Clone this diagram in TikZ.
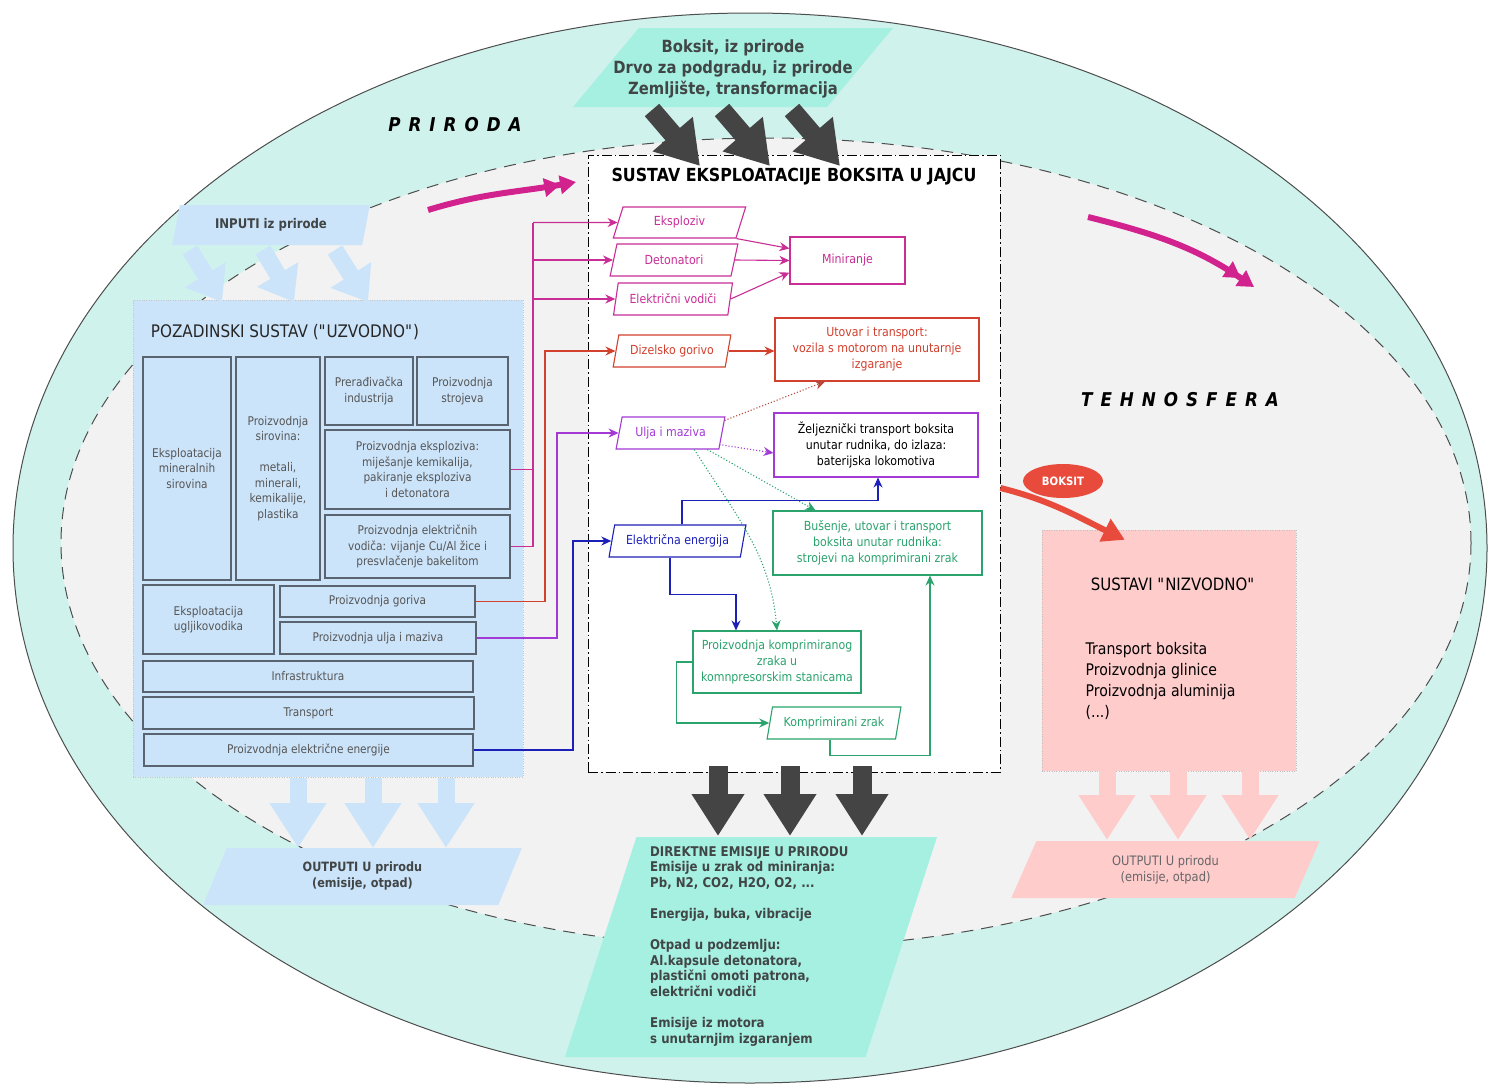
\documentclass[tikz,border=0pt]{standalone}
\usepackage{fontspec}
\setmainfont{DejaVu Sans}[FakeStretch=0.88]
\usetikzlibrary{shapes.geometric,arrows.meta,calc}
\definecolor{outline}{HTML}{4D4D4D}
\definecolor{teal1}{HTML}{CFF3EC}
\definecolor{innergray}{HTML}{F2F2F2}
\definecolor{aqua}{HTML}{A6F0E2}
\definecolor{lblue}{HTML}{CCE4FA}
\definecolor{lpink}{HTML}{FFCCCC}
\definecolor{magc}{HTML}{C92D96}
\definecolor{magarrow}{HTML}{D2228E}
\definecolor{redc}{HTML}{D2402E}
\definecolor{purp}{HTML}{A33AD6}
\definecolor{bluec}{HTML}{1C20B8}
\definecolor{greenc}{HTML}{2AA36D}
\definecolor{darkarrow}{HTML}{444444}
\definecolor{boxedge}{HTML}{5A6470}
\definecolor{boxtext}{HTML}{555555}
\definecolor{darktext}{HTML}{404545}
\definecolor{boksred}{HTML}{E84A3C}
\definecolor{dotred}{HTML}{B4483C}
\newcommand\spc{\hspace{8pt}}
\newcommand\qq{\textquotedbl}
\begin{document}
\begin{tikzpicture}[x=1pt,y=-1pt,
  lbox/.style={draw=boxedge,fill=lblue,line width=1.1pt,inner sep=1pt,align=center,text=boxtext,font=\fontsize{12}{15.5}\selectfont},
  para/.style={trapezium,trapezium left angle=70,trapezium right angle=110,trapezium stretches=true,inner sep=0pt,align=center},
  cpara/.style={para,draw=#1,text=#1,line width=1.1pt,fill=white,font=\fontsize{12.5}{16}\selectfont},
  crect/.style={draw=#1,line width=1.1pt,fill=white,align=center,inner sep=1pt,font=\fontsize{12.5}{16}\selectfont},
  conn/.style={line width=1.1pt,-{Stealth[length=10pt,width=9pt]}},
  dotconn/.style={line width=1.1pt,dotted,-{Stealth[length=10pt,width=9pt]}},
  dblk/.style={draw=darkarrow,line width=19pt,-{Triangle[length=42pt,width=50pt]}},
  bblk/.style={draw=lblue,line width=17pt,-{Triangle[length=45pt,width=54pt]}},
  iblk/.style={draw=lblue,line width=17pt,-{Triangle[length=32pt,width=46pt]}},
  pblk/.style={draw=lpink,line width=17pt,-{Triangle[length=45pt,width=54pt]}},
  magarr/.style={draw=magarrow,line width=6pt,-{Triangle[length=16pt,width=18pt]Triangle[length=16pt,width=18pt]}},
  bigtitle/.style={font=\fontsize{19}{22}\selectfont\bfseries\itshape,text=black}
]
\useasboundingbox (0,0) rectangle (1491,1084);
\fill[white] (0,0) rectangle (1491,1084);
% spheres
\draw[draw=outline,line width=1pt,fill=teal1] (750,548) ellipse [x radius=737pt,y radius=535pt];
\draw[draw=outline,line width=1pt,dash pattern=on 12pt off 8pt,fill=innergray] (766,543) ellipse [x radius=705pt,y radius=405pt];

\node[bigtitle] (priroda) at (455,125) {P\spc R\spc I\spc R\spc O\spc D\spc A};
\node[bigtitle] (tehno) at (1180,400) {T\spc E\spc H\spc N\spc O\spc S\spc F\spc E\spc R\spc A};

% nature inputs
\node[para,fill=aqua,minimum width=320pt,minimum height=79pt] (nat) at (733,67.5) {\phantom{M}};
\node[align=center,font=\fontsize{16.8}{21}\selectfont\bfseries,text=darktext] (nattext) at (733,69) {Boksit, iz prirode\\Drvo za podgradu, iz prirode\\Zemljište, transformacija};

% central system box
\node[draw=black,line width=0.9pt,dash pattern=on 10pt off 3pt on 1.5pt off 3pt,fill=white,minimum width=412pt,minimum height=617pt,inner sep=0pt] (sys) at (794,463.5) {};
\node[font=\fontsize{18}{21}\selectfont\bfseries,text=black] (systitle) at (794,177) {SUSTAV EKSPLOATACIJE BOKSITA U JAJCU};

% top dark arrows
\coordinate (t1s) at (652,110); \coordinate (t1e) at (700,166);
\coordinate (t2s) at (722,110); \coordinate (t2e) at (770,166);
\coordinate (t3s) at (792,110); \coordinate (t3e) at (840,166);
\draw[dblk] (t1s) -- (t1e);
\draw[dblk] (t2s) -- (t2e);
\draw[dblk] (t3s) -- (t3e);

% magenta sweeping arrows
\coordinate (m1s) at (428,210); \coordinate (m1e) at (576,182);
\coordinate (m2s) at (1088,217); \coordinate (m2e) at (1254,287);
\draw[magarr] (m1s) to[out=17,in=190] (m1e);
\draw[magarr] (m2s) to[out=-14,in=146] (m2e);

% background system
\node[fill=lblue,draw=gray!45,dotted,minimum width=390pt,minimum height=477pt,inner sep=0pt] (pozad) at (328,538.5) {};
\node[font=\fontsize{17.3}{20}\selectfont,text=black!85] (poztitle) at (285,332) {POZADINSKI SUSTAV (\qq UZVODNO\qq)};

\node[para,fill=lblue,minimum width=198pt,minimum height=40pt,font=\fontsize{13.3}{16}\selectfont\bfseries,text=darktext] (inp) at (271,225) {INPUTI iz prirode};
\coordinate (i1s) at (190,250); \coordinate (i1e) at (222,302);
\coordinate (i2s) at (263,250); \coordinate (i2e) at (294,302);
\coordinate (i3s) at (335,250); \coordinate (i3e) at (368,302);
\draw[iblk] (i1s) -- (i1e);
\draw[iblk] (i2s) -- (i2e);
\draw[iblk] (i3s) -- (i3e);

\node[lbox,minimum width=88pt,minimum height=223pt] (emin) at (187,468.5) {Eksploatacija\\mineralnih\\sirovina};
\node[lbox,minimum width=84pt,minimum height=223pt] (psir) at (278,468.5) {Proizvodnja\\sirovina:\\[15.5pt]metali,\\minerali,\\kemikalije,\\plastika};
\node[lbox,minimum width=88pt,minimum height=68pt] (prer) at (369,391) {Prerađivačka\\industrija};
\node[lbox,minimum width=91pt,minimum height=68pt] (pstr) at (462.5,391) {Proizvodnja\\strojeva};
\node[lbox,minimum width=185pt,minimum height=79pt] (pexp) at (417.5,469.5) {Proizvodnja eksploziva:\\miješanje kemikalija,\\pakiranje eksploziva\\i detonatora};
\node[lbox,minimum width=185pt,minimum height=63pt] (pvod) at (417.5,546.5) {Proizvodnja električnih\\vodiča: vijanje Cu/Al žice i\\presvlačenje bakelitom};
\node[lbox,minimum width=131pt,minimum height=69pt] (eugl) at (208.5,619.5) {Eksploatacija\\ugljikovodika};
\node[lbox,minimum width=195pt,minimum height=31pt] (pgor) at (377.5,601.5) {Proizvodnja goriva};
\node[lbox,minimum width=196pt,minimum height=32pt] (pulj) at (378,638) {Proizvodnja ulja i maziva};
\node[lbox,minimum width=330pt,minimum height=31pt] (infra) at (308,676.5) {Infrastruktura};
\node[lbox,minimum width=331pt,minimum height=32pt] (trans) at (308.5,713) {Transport};
\node[lbox,minimum width=329pt,minimum height=32pt] (pel) at (308.5,750) {Proizvodnja električne energije};

% outputs of background
\coordinate (o1s) at (298,778); \coordinate (o1e) at (298,848);
\coordinate (o2s) at (373,778); \coordinate (o2e) at (373,848);
\coordinate (o3s) at (446,778); \coordinate (o3e) at (446,848);
\draw[bblk] (o1s) -- (o1e);
\draw[bblk] (o2s) -- (o2e);
\draw[bblk] (o3s) -- (o3e);
\node[para,fill=lblue,minimum width=319pt,minimum height=57pt,font=\fontsize{12.8}{16}\selectfont\bfseries,text=darktext] (outb) at (362.5,876.5) {OUTPUTI U prirodu\\(emisije, otpad)};

% inputs inside system
\node[cpara=magc,minimum width=133pt,minimum height=31pt] (eksp) at (679.5,222.5) {Eksploziv};
\node[cpara=magc,minimum width=128pt,minimum height=32pt] (deto) at (674,260) {Detonatori};
\node[cpara=magc,minimum width=120pt,minimum height=32pt] (evod) at (673,299) {Električni vodiči};
\node[crect=magc,text=magc,minimum width=115pt,minimum height=47pt] (mini) at (847.5,260.5) {Miniranje};
\node[cpara=redc,minimum width=118pt,minimum height=32pt] (dizel) at (672,351) {Dizelsko gorivo};
\node[crect=redc,text=redc,minimum width=204pt,minimum height=63pt] (utov) at (877,349.5) {Utovar i transport:\\vozila s motorom na unutarnje\\izgaranje};
\node[cpara=purp,minimum width=109pt,minimum height=32pt] (ulja) at (670.5,433) {Ulja i maziva};
\node[crect=purp,text=black,minimum width=204pt,minimum height=64pt] (zelj) at (876,445) {Željeznički transport boksita\\unutar rudnika, do izlaza:\\baterijska lokomotiva};
\node[cpara=bluec,minimum width=137pt,minimum height=32pt] (elen) at (677.5,541) {Električna energija};
\node[crect=greenc,text=greenc,minimum width=209pt,minimum height=64pt] (buse) at (877.5,543) {Bušenje, utovar i transport\\boksita unutar rudnika:\\strojevi na komprimirani zrak};
\node[crect=greenc,text=greenc,minimum width=168pt,minimum height=62pt] (pkz) at (777,662) {Proizvodnja komprimiranog\\zraka u\\komnpresorskim stanicama};
\node[cpara=greenc,minimum width=134pt,minimum height=32pt] (kzrak) at (834,723) {Komprimirani zrak};

% connectors
\coordinate (mx) at (533,222.5);
\coordinate (rx) at (545,0);
\coordinate (px) at (557,0);
\coordinate (bx) at (573,0);
\draw[magc,line width=1.1pt] (pvod.east) -| (mx);
\draw[magc,line width=1.1pt] (pexp.east) -- (pexp.east -| mx);
\draw[conn,magc] (mx) -- (eksp.west);
\draw[conn,magc] (deto.west -| mx) -- (deto.west);
\draw[conn,magc] (evod.west -| mx) -- (evod.west);
\draw[conn,magc] (eksp.bottom right corner) -- ([yshift=12pt]mini.west);
\draw[conn,magc] (deto.east) -- (mini.west);
\draw[conn,magc] (evod.east) -- ([yshift=-12pt]mini.west);

\draw[conn,redc] (pgor.east) -| (rx |- dizel.west) -- (dizel.west);
\draw[conn,redc] (dizel.east) -- (dizel.east -| utov.west);

\draw[conn,purp] (pulj.east) -| (px |- ulja.west) -- (ulja.west);
\draw[dotconn,dotred] ([xshift=-1pt,yshift=-4pt]ulja.top right corner) -- ([xshift=-52pt]utov.south);
\draw[dotconn,purp] ([yshift=5pt]ulja.bottom right corner) -- ([yshift=-8pt]zelj.west);
\draw[dotconn,greenc] ([xshift=-12pt]ulja.bottom right corner) -- ([xshift=-62pt]buse.north);
\draw[dotconn,greenc] ([xshift=-25pt]ulja.bottom right corner) to[out=-58,in=95] (pkz.north);

\draw[conn,bluec] (pel.east) -| (bx |- elen.west) -- (elen.west);
\draw[conn,bluec] ([xshift=4.5pt]elen.north) -- ++(0,-24) -| ([xshift=2pt]zelj.south);
\draw[conn,bluec] ([xshift=-7.5pt]elen.south) -- ++(0,37) -| ([xshift=-41pt]pkz.north);

\draw[conn,greenc] (pkz.west) -- ++(-16,0) |- (kzrak.west);
\draw[conn,greenc] ([xshift=-4pt]kzrak.south) -- ++(0,16) -| ([xshift=52.5pt]buse.south);

% direct emissions
\coordinate (d1s) at (718,766); \coordinate (d1e) at (718,836);
\coordinate (d2s) at (790,766); \coordinate (d2e) at (790,836);
\coordinate (d3s) at (862,766); \coordinate (d3e) at (862,836);
\draw[dblk] (d1s) -- (d1e);
\draw[dblk] (d2s) -- (d2e);
\draw[dblk] (d3s) -- (d3e);
\node[para,trapezium left angle=72,trapezium right angle=108,fill=aqua,minimum width=372pt,minimum height=220pt] (dir) at (751,947) {\phantom{M}};
\node[anchor=north west,align=left,inner sep=0pt,font=\fontsize{13.4}{15.6}\selectfont\bfseries,text=darktext] (dirtext) at (650,846) {DIREKTNE EMISIJE U PRIRODU\\Emisije u zrak od miniranja:\\Pb, N2, CO2, H2O, O2, ...\\[15.6pt]Energija, buka, vibracije\\[15.6pt]Otpad u podzemlju:\\Al.kapsule detonatora,\\plastični omoti patrona,\\električni vodiči\\[15.6pt]Emisije iz motora\\s unutarnjim izgaranjem};

% downstream
\node[fill=lpink,draw=gray!50,dotted,minimum width=254pt,minimum height=241pt,inner sep=0pt] (nizv) at (1169,650.5) {};
\node[font=\fontsize{17}{20}\selectfont,text=black] (nizvtitle) at (1173,584) {SUSTAVI \qq NIZVODNO\qq};
\node[anchor=west,align=left,font=\fontsize{16}{21.3}\selectfont,text=black] (nizvlist) at (1082,681) {Transport boksita\\Proizvodnja glinice\\Proizvodnja aluminija\\(...)};
\node[ellipse,fill=boksred,minimum width=80pt,minimum height=34pt,inner sep=0pt,text=white,font=\fontsize{11.5}{14}\selectfont\bfseries] (boks) at (1063,481) {BOKSIT};
\draw[draw=boksred,line width=6pt,-{Triangle[length=22pt,width=24pt]}] ([yshift=-24.5pt]sys.east) to[out=-14,in=154] ($(nizv.north west)+(83,10)$);

\coordinate (p1s) at (1107,771); \coordinate (p1e) at (1107,840);
\coordinate (p2s) at (1178,771); \coordinate (p2e) at (1178,840);
\coordinate (p3s) at (1250,771); \coordinate (p3e) at (1250,840);
\draw[pblk] (p1s) -- (p1e);
\draw[pblk] (p2s) -- (p2e);
\draw[pblk] (p3s) -- (p3e);
\node[para,fill=lpink,minimum width=309pt,minimum height=57pt,font=\fontsize{13}{16}\selectfont,text=black!60] (outp) at (1165.5,869.5) {OUTPUTI U prirodu\\(emisije, otpad)};
\end{tikzpicture}
\end{document}
